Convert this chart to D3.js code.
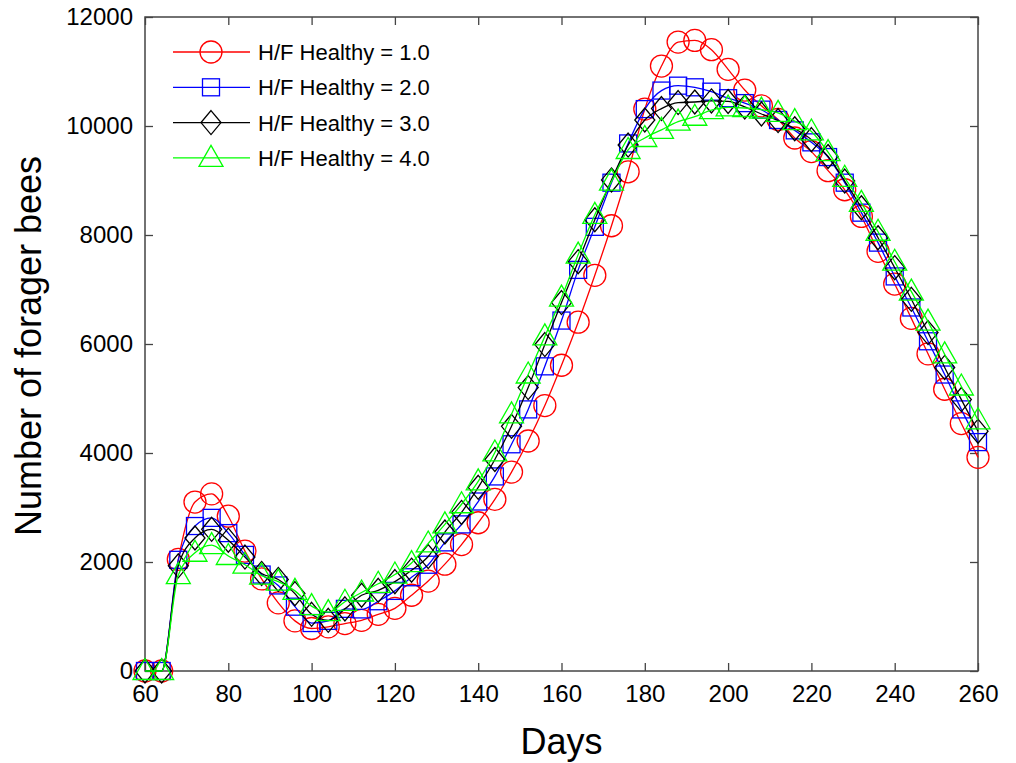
<!DOCTYPE html>
<html>
<head>
<meta charset="utf-8">
<script src="https://cdn.jsdelivr.net/npm/d3@7"></script>
<style>
  html, body { margin: 0; padding: 0; background: #fff; }
  svg { display: block; font-family: "Liberation Sans", Arial, Helvetica, sans-serif; }
</style>
</head>
<body>
<svg id="chart" width="1016" height="763"></svg>
<script>
// ---- data ----
const days = [60,64,68,72,76,80,84,88,92,96,100,104,108,112,116,120,124,128,132,136,140,144,148,152,156,160,164,168,172,176,180,184,188,192,196,200,204,208,212,216,220,224,228,232,236,240,244,248,252,256,260];

const healthy1 = [0,0,2050,3100,3250,2840,2200,1690,1250,920,780,810,870,930,1040,1150,1390,1650,1960,2320,2720,3150,3650,4220,4870,5610,6400,7260,8170,9160,10310,11100,11540,11570,11400,11040,10660,10370,10120,9780,9530,9180,8830,8340,7700,7100,6470,5820,5170,4540,3920];
const healthy2 = [0,0,2040,2660,2810,2530,2130,1770,1570,1180,880,920,1140,1130,1280,1470,1720,1950,2360,2690,3110,3570,4160,4800,5590,6430,7360,8150,8960,9680,10310,10650,10740,10710,10630,10510,10420,10300,10110,9920,9700,9430,8960,8410,7860,7240,6670,6050,5440,4800,4200];
const healthy3 = [0,0,1930,2440,2600,2400,2090,1790,1680,1420,1040,930,1140,1390,1480,1640,1850,2100,2550,2910,3370,3880,4490,5200,5990,6760,7510,8280,9010,9650,10110,10320,10430,10440,10460,10450,10350,10220,10100,9950,9750,9440,8990,8500,7950,7400,6820,6210,5570,4980,4400];
const healthy4 = [0,0,1760,2170,2310,2110,1950,1750,1640,1470,1190,1080,1270,1440,1600,1770,1980,2340,2690,3060,3480,4010,4710,5440,6140,6850,7640,8370,8980,9560,9780,9930,10080,10170,10290,10340,10330,10300,10240,10090,9900,9520,9050,8590,8060,7510,6960,6410,5810,5220,4600];

const seriesNames = ["H/F Healthy = 1.0","H/F Healthy = 2.0","H/F Healthy = 3.0","H/F Healthy = 4.0"];
const xTicks = [60,80,100,120,140,160,180,200,220,240,260];
const yTicks = [0,2000,4000,6000,8000,10000,12000];

// ---- styles (kept separate from data) ----
const colors = ["#ff0000","#0000ff","#000000","#00ff00"];
const markerTypes = ["circle","square","diamond","triangle"];
const allValues = [healthy1, healthy2, healthy3, healthy4];

const L = 145, R = 978, T = 17, B = 671;
const svg = d3.select("#chart");

const x = d3.scaleLinear().domain([60,260]).range([L,R]);
const y = d3.scaleLinear().domain([0,12000]).range([B,T]);

const axisColor = "#444";
const tickFont = 24;

// axes
const gB = svg.append("g").attr("transform",`translate(0,${B})`)
  .call(d3.axisBottom(x).tickValues(xTicks).tickSize(-8).tickSizeOuter(0).tickPadding(14).tickFormat(d3.format("d")));
const gT = svg.append("g").attr("transform",`translate(0,${T})`)
  .call(d3.axisTop(x).tickValues(xTicks).tickSize(-8).tickSizeOuter(0).tickFormat(""));
const gL = svg.append("g").attr("transform",`translate(${L},0)`)
  .call(d3.axisLeft(y).tickValues(yTicks).tickSize(-8).tickSizeOuter(0).tickPadding(12).tickFormat(d3.format("d")));
const gR = svg.append("g").attr("transform",`translate(${R},0)`)
  .call(d3.axisRight(y).tickValues(yTicks).tickSize(-8).tickSizeOuter(0).tickFormat(""));

[gB,gT,gL,gR].forEach(g => {
  g.select(".domain").remove();
  g.selectAll(".tick line").attr("stroke",axisColor).attr("stroke-width",1.3);
  g.selectAll(".tick text").attr("fill","#000").style("font-size",tickFont+"px")
    .style("font-family",'"Liberation Sans", Arial, Helvetica, sans-serif');
});
svg.append("rect").attr("x",L).attr("y",T).attr("width",R-L).attr("height",B-T)
  .attr("fill","none").attr("stroke",axisColor).attr("stroke-width",1.5);

// axis titles
svg.append("text").attr("x",(L+R)/2).attr("y",754).attr("text-anchor","middle")
  .style("font-size","36px").attr("fill","#000").text("Days");
svg.append("text").attr("transform","translate(41,346) rotate(-90)").attr("text-anchor","middle")
  .style("font-size","36px").attr("fill","#000").text("Number of forager bees");

// marker drawing
function drawMarker(g, type, color) {
  if (type === "circle") {
    g.append("circle").attr("r",11).attr("fill","none").attr("stroke",color).attr("stroke-width",1.3);
  } else if (type === "square") {
    g.append("rect").attr("x",-8.5).attr("y",-8.5).attr("width",17).attr("height",17)
      .attr("fill","none").attr("stroke",color).attr("stroke-width",1.3);
  } else if (type === "diamond") {
    g.append("path").attr("d","M0,-12 L10,0 L0,12 L-10,0 Z")
      .attr("fill","none").attr("stroke",color).attr("stroke-width",1.3);
  } else {
    g.append("path").attr("d","M0,-12.5 L12,8.5 L-12,8.5 Z")
      .attr("fill","none").attr("stroke",color).attr("stroke-width",1.3);
  }
}

const line = d3.line().x(d => x(d[0])).y(d => y(d[1])).curve(d3.curveMonotoneX);

allValues.forEach((vals, i) => {
  const pts = days.map((d, j) => [d, vals[j]]);
  const g = svg.append("g");
  g.append("path").attr("d", line(pts)).attr("fill","none")
    .attr("stroke", colors[i]).attr("stroke-width",1.3);
  g.selectAll("g.m").data(pts).enter().append("g").attr("class","m")
    .attr("transform", d => `translate(${x(d[0])},${y(d[1])})`)
    .each(function(){ drawMarker(d3.select(this), markerTypes[i], colors[i]); });
});

// legend
const legend = svg.append("g");
seriesNames.forEach((name, i) => {
  const ly = 52 + i*35.3;
  legend.append("line").attr("x1",173).attr("x2",250).attr("y1",ly).attr("y2",ly)
    .attr("stroke",colors[i]).attr("stroke-width",1.3);
  const mg = legend.append("g").attr("transform",`translate(211,${ly})`);
  drawMarker(mg, markerTypes[i], colors[i]);
  legend.append("text").attr("x",258).attr("y",ly+8).style("font-size","22px")
    .attr("fill","#000").text(name);
});
</script>
</body>
</html>
